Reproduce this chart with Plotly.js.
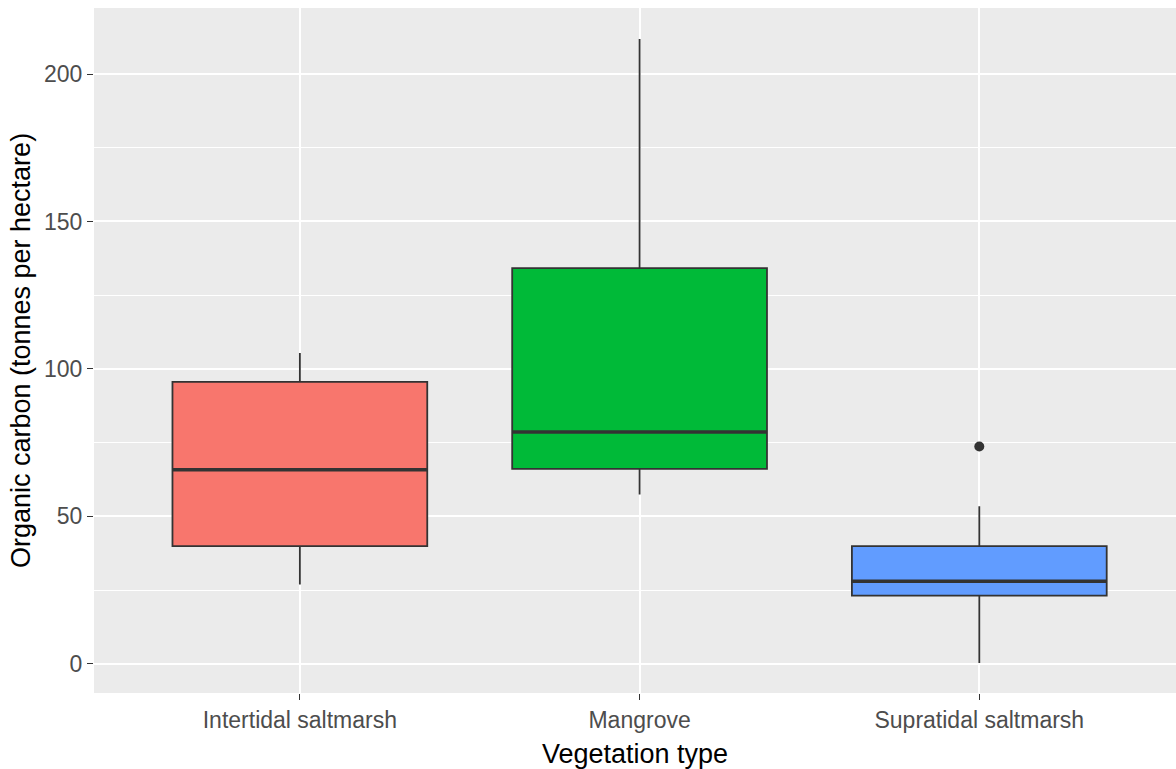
<!DOCTYPE html>
<html>
<head>
<meta charset="utf-8">
<script src="https://cdn.plot.ly/plotly-3.0.1.min.js"></script>
<style>
  html, body { margin: 0; padding: 0; background: #ffffff; overflow: hidden; }
  #chart { width: 1176px; height: 769px; }
</style>
</head>
<body>
<div id="chart"></div>
<script>
// ---- Data ----
const categories   = ["Intertidal saltmarsh", "Mangrove", "Supratidal saltmarsh"];
const lowerWhisker = [26.9, 57.4, 0.3];
const q1Values     = [39.9, 66.1, 23.1];
const medianValues = [65.8, 78.6, 28.0];
const q3Values     = [95.6, 134.2, 39.9];
const upperWhisker = [105.4, 211.9, 53.4];
const outlierCategory = ["Supratidal saltmarsh"];
const outlierValues   = [73.7];
const fillColors   = ["#F8766D", "#00BA38", "#619CFF"];
const yTickValues  = [0, 50, 100, 150, 200];

// ---- Build traces ----
const boxWidth = 0.75;
const positions = categories.map((c, i) => i);
const traces = [];

categories.forEach((cat, i) => {
  traces.push({
    type: "box",
    name: cat,
    x: [positions[i]],
    q1: [q1Values[i]],
    median: [medianValues[i]],
    q3: [q3Values[i]],
    lowerfence: [lowerWhisker[i]],
    upperfence: [upperWhisker[i]],
    width: boxWidth,
    whiskerwidth: 0,
    fillcolor: fillColors[i],
    line: { color: "#333333", width: 1.8 },
    boxpoints: false,
    hoverinfo: "skip",
    showlegend: false
  });
});

// thicker median lines (ggplot fatten = 2)
categories.forEach((cat, i) => {
  traces.push({
    type: "scatter",
    mode: "lines",
    x: [positions[i] - boxWidth / 2, positions[i] + boxWidth / 2],
    y: [medianValues[i], medianValues[i]],
    line: { color: "#333333", width: 3.5 },
    hoverinfo: "skip",
    showlegend: false
  });
});

// outliers
traces.push({
  type: "scatter",
  mode: "markers",
  x: outlierCategory.map(c => categories.indexOf(c)),
  y: outlierValues,
  marker: { color: "#333333", size: 10 },
  hoverinfo: "skip",
  showlegend: false
});

const layout = {
  width: 1176,
  height: 769,
  margin: { l: 94, r: 0, t: 8, b: 76, pad: 0 },
  paper_bgcolor: "#ffffff",
  plot_bgcolor: "#EBEBEB",
  font: { family: "Liberation Sans, Arial, sans-serif", color: "#4D4D4D", size: 23 },
  showlegend: false,
  xaxis: {
    range: [-0.606, 2.579],
    tickmode: "array",
    tickvals: positions,
    ticktext: categories,
    showgrid: true,
    gridcolor: "#ffffff",
    gridwidth: 2,
    zeroline: false,
    showline: false,
    ticks: "outside",
    ticklen: 6,
    tickwidth: 1,
    tickcolor: "#333333",
    tickfont: { size: 23, color: "#4D4D4D" },
    title: { text: "Vegetation type", font: { size: 27, color: "#000000" } },
    automargin: false,
    fixedrange: true
  },
  yaxis: {
    range: [-9.9, 222.4],
    tickmode: "array",
    tickvals: yTickValues,
    showgrid: true,
    gridcolor: "#ffffff",
    gridwidth: 2,
    minor: { dtick: 25, tick0: 25, showgrid: true, gridcolor: "#ffffff", gridwidth: 1, ticks: "" },
    zeroline: false,
    showline: false,
    ticks: "outside",
    ticklen: 6,
    tickwidth: 1,
    tickcolor: "#333333",
    tickfont: { size: 23, color: "#4D4D4D" },
    title: { text: "Organic carbon (tonnes per hectare)", font: { size: 27, color: "#000000" } },
    automargin: false,
    fixedrange: true
  }
};

Plotly.newPlot("chart", traces, layout, { displayModeBar: false, staticPlot: true });
</script>
</body>
</html>
